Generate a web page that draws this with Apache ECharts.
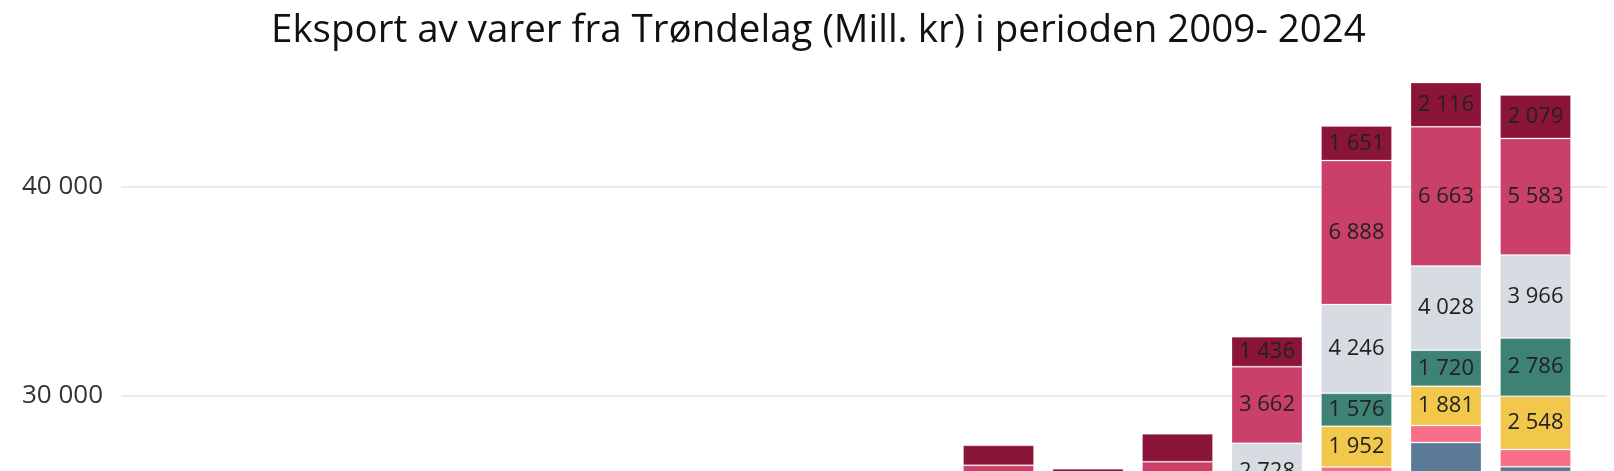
<!DOCTYPE html>
<html>
<head>
<meta charset="utf-8">
<script src="https://cdn.jsdelivr.net/npm/echarts@6/dist/echarts.min.js"></script>
<style>
  html, body { margin: 0; padding: 0; overflow: hidden; background: #fff; width: 1614px; height: 471px; }
  /* the chart is taller than the window, only the top part is shown */
  #chart { position: absolute; left: 0; top: -100px; width: 1614px; height: 1200px; }
</style>
</head>
<body>
<div id="chart"></div>
<script>
const years = ['2009', '2010', '2011', '2012', '2013', '2014', '2015', '2016',
               '2017', '2018', '2019', '2020', '2021', '2022', '2023', '2024'];

// stacked from the bottom up
const gruppe1 = [4500, 5230, 5450, 5420, 6090, 6970, 7900, 8860, 9320, 11210, 10450, 10860, 13360, 16380, 16750, 16690];
const gruppe2 = [2500, 2800, 3000, 2950, 3200, 3500, 3800, 4100, 4300, 4400, 4300, 4500, 4800, 5500, 5800, 5600];
const gruppe3 = [2000, 2200, 2300, 2250, 2400, 2600, 2800, 3000, 3100, 3200, 3100, 3300, 3600, 4000, 5200, 4300];
const gruppe4 = [400, 420, 450, 440, 470, 500, 530, 560, 580, 600, 590, 620, 680, 700, 813, 828];
const gruppe5 = [800, 850, 900, 880, 950, 1000, 1050, 1100, 1150, 1200, 1180, 1250, 1400, 1952, 1881, 2548];
const gruppe6 = [600, 650, 700, 680, 720, 780, 820, 860, 900, 950, 920, 1000, 1150, 1576, 1720, 2786];
const gruppe7 = [1500, 1600, 1700, 1650, 1750, 1900, 2000, 2100, 2200, 2300, 2250, 2400, 2728, 4246, 4028, 3966];
const gruppe8 = [1800, 2000, 2100, 2050, 2200, 2300, 2500, 2600, 2700, 2800, 2700, 2900, 3662, 6888, 6663, 5583];
const gruppe9 = [700, 750, 800, 780, 820, 850, 900, 920, 950, 957, 1010, 1340, 1436, 1651, 2116, 2079];

const yTicks = { min: 0, max: 50000, interval: 10000 };

const chart = echarts.init(document.getElementById('chart'));

function fmt(v) {
  return String(Math.round(v)).replace(/\B(?=(\d{3})+(?!\d))/g, ' ');
}

const serier = [
  { name: 'Varegruppe 1', data: gruppe1, color: '#2B4A6F' },
  { name: 'Varegruppe 2', data: gruppe2, color: '#A9B8CB' },
  { name: 'Varegruppe 3', data: gruppe3, color: '#5A7A98' },
  { name: 'Varegruppe 4', data: gruppe4, color: '#F96E88' },
  { name: 'Varegruppe 5', data: gruppe5, color: '#F1C84B' },
  { name: 'Varegruppe 6', data: gruppe6, color: '#3E8175' },
  { name: 'Varegruppe 7', data: gruppe7, color: '#D7DCE2' },
  { name: 'Varegruppe 8', data: gruppe8, color: '#CB4068' },
  { name: 'Varegruppe 9', data: gruppe9, color: '#8A1538' }
];

const option = {
  backgroundColor: '#fff',
  animation: false,
  title: {
    text: 'Eksport av varer fra Trøndelag (Mill. kr) i perioden 2009- 2024',
    left: 266,
    top: 107,
    textStyle: { fontFamily: 'Open Sans', fontSize: 38.5, fontWeight: 'normal', color: '#111' }
  },
  // grid 0 carries the y axis and the long gridlines, grid 1 the bars
  grid: [
    { left: 121, right: 7, top: 77.5, bottom: 77.5 },
    { left: 148.25, right: 33.75, top: 77.5, bottom: 77.5 }
  ],
  xAxis: [
    { gridIndex: 0, type: 'category', data: years, show: false },
    {
      gridIndex: 1, type: 'category', data: years,
      axisTick: { show: false },
      axisLine: { lineStyle: { color: '#ccc' } },
      axisLabel: { fontFamily: 'Open Sans', fontSize: 20, color: '#333' }
    }
  ],
  yAxis: [
    {
      gridIndex: 0, type: 'value', ...yTicks,
      axisLine: { show: false }, axisTick: { show: false },
      axisLabel: { margin: 18, fontFamily: 'Open Sans', fontSize: 26, color: '#333', formatter: fmt },
      splitLine: { lineStyle: { color: '#E9EBEE', width: 2 } }
    },
    {
      gridIndex: 1, type: 'value', ...yTicks, show: false,
      splitLine: { show: false }
    }
  ],
  series: serier.map(s => ({
    name: s.name,
    type: 'bar',
    stack: 'eksport',
    xAxisIndex: 1,
    yAxisIndex: 1,
    barWidth: 71,
    data: s.data,
    itemStyle: { color: s.color, borderColor: 'rgba(255,255,255,0.25)', borderWidth: 1 },
    label: {
      show: true,
      position: 'inside',
      fontFamily: 'Open Sans',
      fontSize: 22,
      color: '#222',
      formatter: p => (p.value >= 1400 ? fmt(p.value) : '')
    }
  }))
};

chart.setOption(option);
</script>
</body>
</html>
